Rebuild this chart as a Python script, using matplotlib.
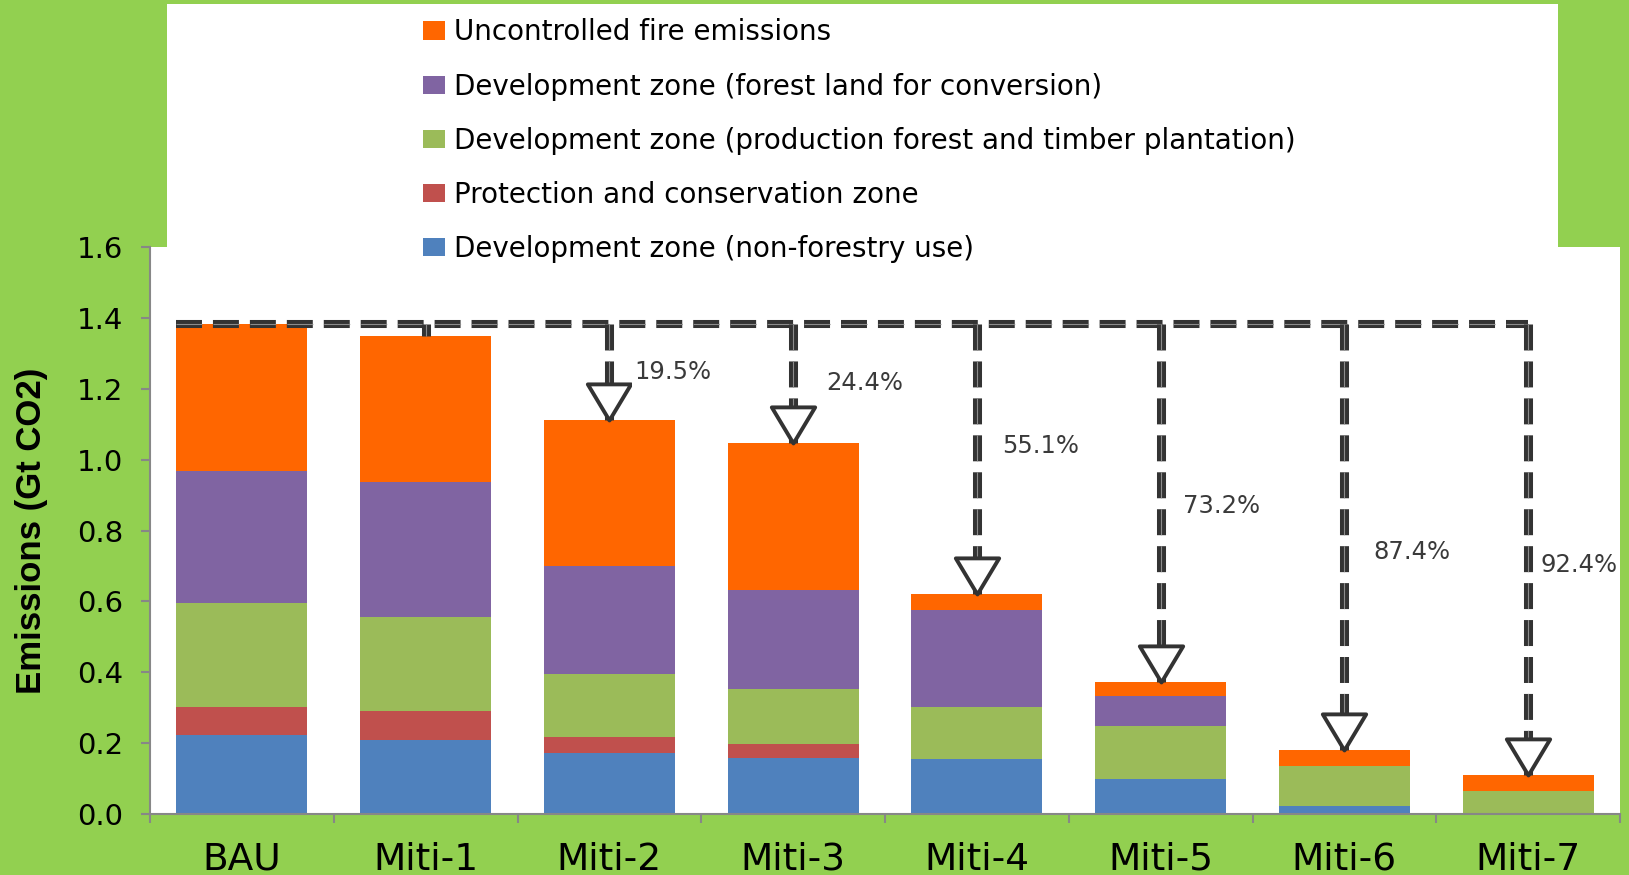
import numpy as np
import matplotlib.pyplot as plt
from matplotlib.patches import Rectangle
from matplotlib.path import Path

plt.rcParams['font.family'] = 'DejaVu Sans'
plt.rcParams['lines.scale_dashes'] = False

# data (Gt CO2)
scenarios = ['BAU', 'Miti-1', 'Miti-2', 'Miti-3', 'Miti-4', 'Miti-5', 'Miti-6', 'Miti-7']
non_forestry = [0.223, 0.209, 0.171, 0.158, 0.155, 0.099, 0.023, 0.0]
protection = [0.079, 0.081, 0.046, 0.039, 0.0, 0.0, 0.0, 0.0]
production = [0.293, 0.265, 0.178, 0.155, 0.147, 0.149, 0.112, 0.065]
conversion = [0.372, 0.381, 0.304, 0.280, 0.273, 0.085, 0.0, 0.0]
fire = [0.417, 0.412, 0.412, 0.416, 0.045, 0.039, 0.045, 0.045]
reduction_pct = ['19.5%', '24.4%', '55.1%', '73.2%', '87.4%', '92.4%']

series = [
    ('Development zone (non-forestry use)', non_forestry, '#4F81BD'),
    ('Protection and conservation zone', protection, '#C0504D'),
    ('Development zone (production forest and timber plantation)', production, '#9BBB59'),
    ('Development zone (forest land for conversion)', conversion, '#8064A2'),
    ('Uncontrolled fire emissions', fire, '#FF6600'),
]

BG = '#92D050'
DARK = '#333333'
W, H = 1629, 875

fig = plt.figure(figsize=(W / 100, H / 100), dpi=100, facecolor=BG)
ax = fig.add_axes([150 / W, 1 - 814 / H, 1470 / W, 567 / H])
ax.set_facecolor('white')

# white box behind the legend
fig.add_artist(Rectangle((167 / W, 1 - 247 / H), 1391 / W, 243 / H,
                         transform=fig.transFigure, facecolor='white',
                         edgecolor='none', zorder=-1))

x = np.arange(len(scenarios))
width = 0.714
bottom = np.zeros(len(scenarios))
handles = []
for name, vals, col in series:
    vals = np.array(vals)
    b = ax.bar(x, vals, width, bottom=bottom, color=col, label=name, zorder=2)
    handles.append(b)
    bottom += vals
totals = bottom

# reduction arrows
line_y = totals[0]
dash = (18.7, 7.9)
ax.plot([x[0] - width / 2, x[-1]], [line_y, line_y], color=DARK, lw=5.8,
        dashes=dash, dash_capstyle='butt', zorder=3)
ax.plot([x[0] - width / 2, x[-1]], [line_y, line_y], color='#8c8c8c', lw=0.8,
        dashes=dash, dash_capstyle='butt', zorder=3)

tri = Path([(-1.2, 2), (1.2, 2), (0, 0), (-1.2, 2)],
           [Path.MOVETO, Path.LINETO, Path.LINETO, Path.CLOSEPOLY])
label_dx = [18, 24, 18, 16, 21, 9]
label_dy = [0, 0, 9, -2, -11, -11.5]

for i in range(1, len(scenarios)):
    ax.plot([x[i], x[i]], [line_y, totals[i]], color=DARK, lw=6.5,
            dashes=dash, dash_capstyle='butt', zorder=3)
    ax.plot([x[i], x[i]], [line_y, totals[i]], color='#8c8c8c', lw=0.8,
            dashes=dash, dash_capstyle='butt', zorder=3)
    if i >= 2:
        ax.plot(x[i], totals[i], marker=tri, markersize=52, mfc='white',
                mec=DARK, mew=2.8, zorder=4, clip_on=False)
        ax.annotate(reduction_pct[i - 2], xy=(x[i], (line_y + totals[i]) / 2),
                    xytext=(label_dx[i - 2], label_dy[i - 2]),
                    textcoords='offset points',
                    ha='left', va='center', fontsize=17.5, color='#3a3a3a',
                    bbox=dict(fc='white', ec='none', pad=2), zorder=5,
                    annotation_clip=False)

ax.set_xlim(-0.5, len(scenarios) - 0.5)
ax.set_ylim(0, 1.6)
ax.set_yticks(np.arange(0, 1.61, 0.2))
ax.set_yticklabels([f'{v:.1f}' for v in np.arange(0, 1.61, 0.2)], fontsize=21)
ax.set_xticks(x)
ax.set_xticklabels(scenarios, fontsize=27)
ax.set_xticks(np.arange(-0.5, len(scenarios), 1), minor=True)
ax.tick_params(axis='x', which='major', length=0, pad=20)
ax.tick_params(axis='x', which='minor', length=6.5, width=1.5, color='#878787')
ax.tick_params(axis='y', length=6.5, width=1.5, color='#878787', pad=13)

for s in ['top', 'right']:
    ax.spines[s].set_visible(False)
for s in ['left', 'bottom']:
    ax.spines[s].set_color('#878787')
    ax.spines[s].set_linewidth(1.5)

ax.set_ylabel('Emissions (Gt CO2)', fontsize=25, fontweight='bold',
              family='Liberation Sans', va='center')
ax.yaxis.set_label_coords((32 - 150) / 1470, 0.5)

fig.legend(handles[::-1], [s[0] for s in series][::-1], loc='upper left',
           bbox_to_anchor=(423 / W, 1 - 18.5 / H), frameon=False, fontsize=20,
           labelspacing=0.94, handlelength=0.8, handleheight=0.65,
           handletextpad=0.3, borderpad=0, borderaxespad=0)

fig.savefig('out.png', dpi=100, facecolor=BG)
